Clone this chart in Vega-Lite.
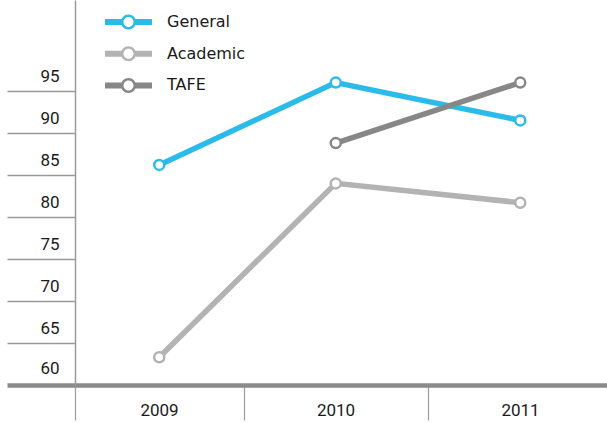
{
  "$schema": "https://vega.github.io/schema/vega-lite/v6.json",
  "width": 532,
  "height": 385,
  "autosize": {"type": "none"},
  "padding": {"left": 75, "top": 0, "right": 0, "bottom": 38},
  "background": "white",
  "config": {"view": {"stroke": null}},
  "data": {
    "values": [
      {"series": "General", "year": 2009, "value": 86.2},
      {"series": "General", "year": 2010, "value": 96.0},
      {"series": "General", "year": 2011, "value": 91.5},
      {"series": "Academic", "year": 2009, "value": 63.3},
      {"series": "Academic", "year": 2010, "value": 84.0},
      {"series": "Academic", "year": 2011, "value": 81.7},
      {"series": "TAFE", "year": 2010, "value": 88.8},
      {"series": "TAFE", "year": 2011, "value": 96.0}
    ]
  },
  "encoding": {
    "x": {
      "field": "year",
      "type": "quantitative",
      "scale": {"domain": [2008.5, 2009.5, 2010.5, 2011.5], "range": [0, 168.5, 353, 537.5], "nice": false, "zero": false},
      "axis": {
        "values": [2008.5, 2009.5, 2010.5],
        "title": null,
        "grid": false,
        "domainColor": "#8a8a8a",
        "domainWidth": 4.5,
        "domainCap": "butt",
        "tickSize": 35,
        "tickColor": "#a0a0a0",
        "tickWidth": 1.3,
        "labelExpr": "'' + (datum.value + 0.5)",
        "labelOffset": {"condition": {"test": "datum.value == 2008.5", "value": 84}, "value": 92},
        "labelPadding": -10,
        "labelBaseline": "middle",
        "labelAlign": "center",
        "labelFont": "Roboto",
        "labelFontSize": 17,
        "labelColor": "#1a1a1a",
        "labelFlush": false,
        "labelOverlap": false
      }
    },
    "y": {
      "field": "value",
      "type": "quantitative",
      "scale": {"domain": [60, 105.83], "nice": false, "zero": false},
      "axis": {
        "values": [60, 65, 70, 75, 80, 85, 90, 95],
        "title": null,
        "grid": false,
        "domainColor": "#9a9a9a",
        "domainWidth": 1.5,
        "tickSize": 68,
        "tickColor": {"condition": {"test": "datum.value == 60", "value": "#8a8a8a"}, "value": "#9a9a9a"},
        "tickWidth": {"condition": {"test": "datum.value == 60", "value": 4.5}, "value": 1.3},
        "labelPadding": -52,
        "labelAlign": "right",
        "labelBaseline": "middle",
        "labelOffset": {"condition": {"test": "datum.value == 60", "value": -17}, "value": -14},
        "labelFont": "Roboto",
        "labelFontSize": 17,
        "labelColor": "#1a1a1a",
        "labelFlush": false,
        "labelOverlap": false
      }
    },
    "color": {
      "field": "series",
      "type": "nominal",
      "scale": {"domain": ["General", "Academic", "TAFE"], "range": ["#2bbbea", "#b3b3b3", "#878787"]},
      "legend": {
        "orient": "none",
        "legendX": 45.5,
        "legendY": 14,
        "title": null,
        "padding": 0,
        "symbolType": "M-23.5,-3H-6.9V3H-23.5Z M6.9,-3H23.5V3H6.9Z M7.5,0A7.5,7.5,0,1,1,-7.5,0A7.5,7.5,0,1,1,7.5,0Z M5,0A5,5,0,1,0,-5,0A5,5,0,1,0,5,0Z",
        "symbolSize": 4,
        "symbolStrokeWidth": 0,
        "labelOffset": 30.5,
        "rowPadding": 15.7,
        "labelFont": "DejaVu Sans",
        "labelFontSize": 16,
        "labelColor": "#1a1a1a",
        "encode": {
          "symbols": {
            "update": {
              "fill": {"scale": "color", "field": "value"},
              "stroke": {"value": "transparent"},
              "opacity": {"value": 1}
            }
          }
        }
      }
    }
  },
  "layer": [
    {"mark": {"type": "line", "strokeWidth": 5.5}},
    {"mark": {"type": "point", "filled": false, "fill": "white", "size": 100, "strokeWidth": 2.5, "opacity": 1}}
  ]
}
